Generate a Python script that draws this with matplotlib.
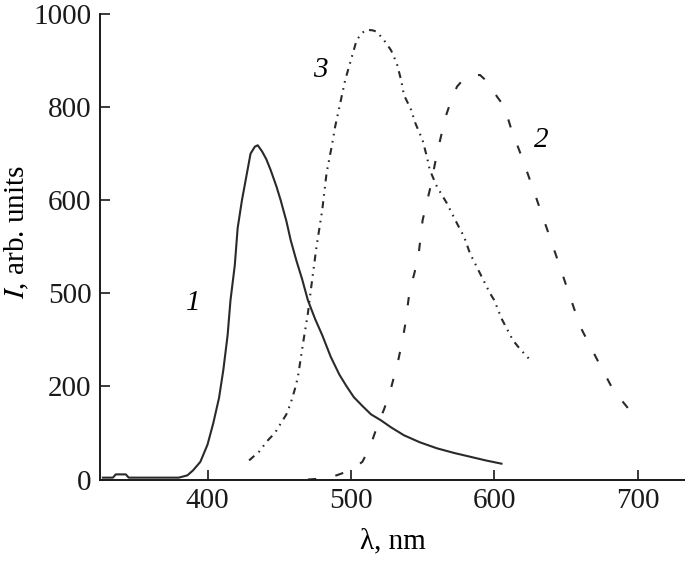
import matplotlib
matplotlib.use("Agg")
import matplotlib.pyplot as plt

plt.rcParams['font.family'] = ['Liberation Serif', 'DejaVu Serif']
plt.rcParams['mathtext.fontset'] = 'stix'
plt.rcParams['lines.scale_dashes'] = False

# curve 1 (solid)
wl1 = [327, 334, 336, 343, 345, 360, 380, 386, 390, 395, 400, 404, 408, 411, 414,
       416, 419, 421, 424, 427, 430, 433, 435, 438, 441, 444, 448, 451, 455, 458,
       462, 466, 470, 475, 480, 486, 492, 497, 502, 508, 514, 521, 528, 537, 548,
       560, 572, 583, 594, 605]
int1 = [4, 4, 11, 11, 4, 4, 4, 9, 20, 38, 75, 121, 175, 235, 310,
        385, 460, 540, 600, 650, 700, 715, 718, 705, 688, 665, 630, 600, 555, 514,
        470, 430, 385, 345, 310, 263, 225, 200, 177, 158, 140, 127, 112, 95, 80,
        67, 57, 49, 41, 34]

# curve 2 (dashed)
wl2 = [470, 480, 490, 500, 508, 511, 515, 519, 523, 527, 530, 533, 536, 538, 541,
       544, 547, 550, 555, 560, 566, 570, 574, 578, 581, 586, 590, 595, 602, 607,
       612, 620, 629, 637, 645, 652, 660, 672, 683, 692, 700]
int2 = [0, 2, 9, 20, 38, 56, 85, 120, 150, 185, 220, 256, 300, 335, 407,
        440, 478, 557, 622, 700, 779, 815, 844, 858, 865, 868, 869, 855, 822, 801,
        751, 686, 607, 536, 464, 400, 328, 256, 192, 158, 127]

# curve 3 (dash-dot-dot)
wl3 = [429, 436, 442, 447, 451, 455, 458, 461, 463, 465, 467, 470, 473, 476, 480,
       483, 487, 489, 493, 496, 500, 504, 508, 511, 515, 518, 523, 528, 532, 535,
       537, 542, 545, 550, 553, 555, 560, 567, 574, 579, 583, 590, 597, 600, 605,
       613, 618, 624]
int3 = [41, 60, 84, 100, 120, 140, 164, 195, 220, 260, 300, 357, 430, 500, 579,
        658, 722, 758, 815, 858, 901, 944, 960, 966, 965, 962, 944, 922, 894, 858,
        826, 794, 765, 729, 693, 665, 629, 593, 550, 521, 486, 443, 400, 385, 346,
        299, 280, 260]

ytick_vals = [0, 200, 400, 600, 800, 1000]
ytick_text = ['0', '200', '500', '600', '800', '1000']
xtick_vals = [400, 500, 600, 700]

fig = plt.figure(figsize=(6.85, 5.62), dpi=100)
ax = fig.add_axes([100 / 685, 1 - 479.5 / 562, 585 / 685, (479.5 - 14) / 562])

col = '#2a2a2a'
ax.plot(wl1, int1, color=col, lw=1.5)
ax.plot(wl2, int2, color=col, lw=1.5, dashes=(6, 14))
ax.plot(wl3, int3, color=col, lw=1.5, dashes=(5, 4, 1.2, 4, 1.2, 4))

ax.set_xlim(325, 733)
ax.set_ylim(0, 1000)
ax.set_xticks(xtick_vals)
ax.set_yticks(ytick_vals, ytick_text)
ax.tick_params(direction='in', length=7, width=1.2, labelsize=21, colors='#1a1a1a', pad=6)
ax.spines['top'].set_visible(False)
ax.spines['right'].set_visible(False)
for s in ('left', 'bottom'):
    ax.spines[s].set_linewidth(1.4)
    ax.spines[s].set_color('#1a1a1a')

ax.set_xlabel('λ, nm', fontsize=21)
ax.set_ylabel('$\\mathit{I}$, arb. units', fontsize=21)
ax.xaxis.set_label_coords(0.5, -0.105)
ax.yaxis.set_label_coords(-0.118, 0.532)

ax.text(390, 379, '1', fontsize=21, style='italic', ha='center', va='center')
ax.text(478.5, 880, '3', fontsize=21, style='italic', ha='center', va='center')
ax.text(633, 729, '2', fontsize=21, style='italic', ha='center', va='center')

fig.savefig('out.png', dpi=100)
